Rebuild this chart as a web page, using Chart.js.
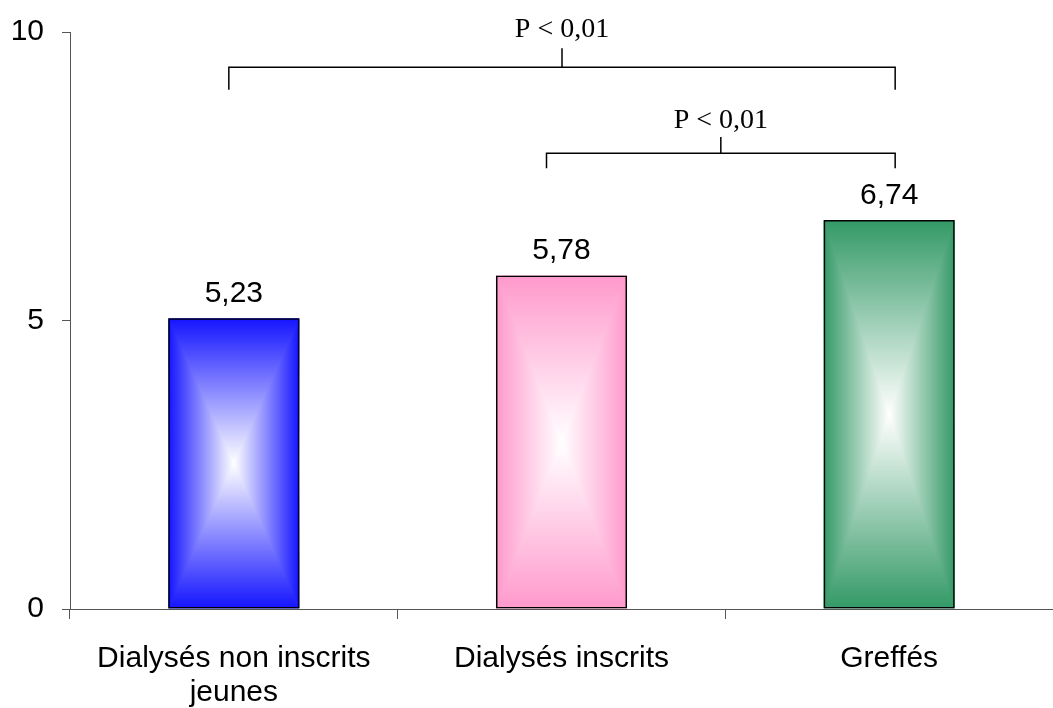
<!DOCTYPE html>
<html>
<head>
<meta charset="utf-8">
<script src="https://cdn.jsdelivr.net/npm/chart.js@4/dist/chart.umd.min.js"></script>
<style>
  body { margin: 0; background: #fff; }
  #wrap { width: 1053px; height: 708px; }
</style>
</head>
<body>
<div id="wrap"><canvas id="chart"></canvas></div>
<script>
// data
let categories = [["Dialysés non inscrits", "jeunes"], "Dialysés inscrits", "Greffés"]
let barHeights = [5.04, 5.78, 6.74]
let valueLabels = ["5,23", "5,78", "6,74"]
let barColors = ["rgb(20,20,255)", "#ff99cc", "#339966"]
let yTicks = [0, 5, 10]

// significance brackets (between category indexes)
let brackets = [
    { from: 0, to: 2, fromOff: -5, toOff: 6, line: 9.39, legs: 9.0, tip: 9.72, textAt: 9.91, text: "P < 0,01" },
    { from: 1, to: 2, fromOff: -15, toOff: 6, line: 7.9, legs: 7.64, tip: 8.18, textAt: 8.34, text: "P < 0,01" }
]

const boxFill = {
    id: 'boxFill',
    beforeDatasetsDraw: (chart) => {
        const ctx = chart.ctx
        chart.getDatasetMeta(0).data.forEach((bar, i) => {
            const l = bar.x - bar.width / 2, r = bar.x + bar.width / 2
            const t = bar.y, b = bar.base
            const cx = bar.x, cy = (t + b) / 2
            const col = barColors[i]
            const grad = (x0, y0) => {
                const g = ctx.createLinearGradient(x0, y0, cx, cy)
                g.addColorStop(0, col)
                g.addColorStop(1, '#ffffff')
                return g
            }
            ctx.save()
            // top / bottom halves as full rects (no seams)
            ctx.fillStyle = grad(cx, t)
            ctx.fillRect(l, t, r - l, cy - t)
            ctx.fillStyle = grad(cx, b)
            ctx.fillRect(l, cy, r - l, b - cy)
            // left / right triangles over them
            const tri = (x) => {
                ctx.beginPath()
                ctx.moveTo(x, t)
                ctx.lineTo(x, b)
                ctx.lineTo(cx, cy)
                ctx.closePath()
                ctx.fillStyle = grad(x, cy)
                ctx.fill()
            }
            tri(l)
            tri(r)
            ctx.restore()
        })
    },
    afterDatasetsDraw: (chart) => {
        const ctx = chart.ctx
        ctx.save()
        ctx.fillStyle = '#000'
        ctx.font = '30px "Liberation Sans", Arial, sans-serif'
        ctx.textAlign = 'center'
        ctx.textBaseline = 'alphabetic'
        chart.getDatasetMeta(0).data.forEach((bar, i) => {
            ctx.fillText(valueLabels[i], bar.x, bar.y - 16)
        })
        ctx.restore()
    },
    afterDraw: (chart) => {
        const ctx = chart.ctx
        const xs = chart.scales.x, ys = chart.scales.y
        ctx.save()
        ctx.strokeStyle = '#000'
        ctx.lineWidth = 1.5
        brackets.forEach(br => {
            const x1 = xs.getPixelForValue(br.from) + br.fromOff
            const x2 = xs.getPixelForValue(br.to) + br.toOff
            const xm = (x1 + x2) / 2
            const yl = ys.getPixelForValue(br.line)
            const yg = ys.getPixelForValue(br.legs)
            const yt = ys.getPixelForValue(br.tip)
            ctx.beginPath()
            ctx.moveTo(x1, yg)
            ctx.lineTo(x1, yl)
            ctx.lineTo(x2, yl)
            ctx.lineTo(x2, yg)
            ctx.moveTo(xm, yl)
            ctx.lineTo(xm, yt)
            ctx.stroke()
            ctx.fillStyle = '#000'
            ctx.font = '28px "Liberation Serif", "Times New Roman", serif'
            ctx.textAlign = 'center'
            ctx.textBaseline = 'alphabetic'
            ctx.fillText(br.text, xm, ys.getPixelForValue(br.textAt))
        })
        ctx.restore()
    }
}

const ctx = document.getElementById('chart').getContext('2d')
const myChart = new Chart(ctx, {
    type: 'bar',
    data: {
        labels: categories,
        datasets: [{
            data: barHeights,
            backgroundColor: 'rgba(0,0,0,0)',
            borderColor: '#000',
            borderWidth: 1.5,
            borderSkipped: false,
            barPercentage: 0.4,
            categoryPercentage: 1
        }]
    },
    options: {
        responsive: true,
        maintainAspectRatio: false,
        animation: false,
        layout: { padding: { top: 32, right: 0, left: 0, bottom: 0 } },
        plugins: {
            legend: { display: false },
            tooltip: { enabled: false }
        },
        scales: {
            x: {
                offset: true,
                grid: { offset: true, drawOnChartArea: false, tickLength: 10, color: '#555' },
                border: { color: '#555', width: 1 },
                ticks: {
                    color: '#000',
                    padding: 22,
                    maxRotation: 0,
                    font: { family: '"Liberation Sans", Arial, sans-serif', size: 30, lineHeight: 1.15 }
                },
                afterFit: (scale) => { scale.height = 99; scale.paddingLeft = 0; scale.paddingRight = 0 }
            },
            y: {
                min: 0,
                max: 10,
                afterBuildTicks: (scale) => { scale.ticks = yTicks.map(v => ({ value: v })) },
                grid: { drawOnChartArea: false, tickLength: 8, color: '#555' },
                border: { color: '#555', width: 1 },
                ticks: {
                    color: '#000',
                    padding: 18,
                    font: { family: '"Liberation Sans", Arial, sans-serif', size: 30 }
                },
                afterFit: (scale) => { scale.width = 70; scale.paddingTop = 0; scale.paddingBottom = 0 }
            }
        }
    },
    plugins: [boxFill]
})
</script>
</body>
</html>
